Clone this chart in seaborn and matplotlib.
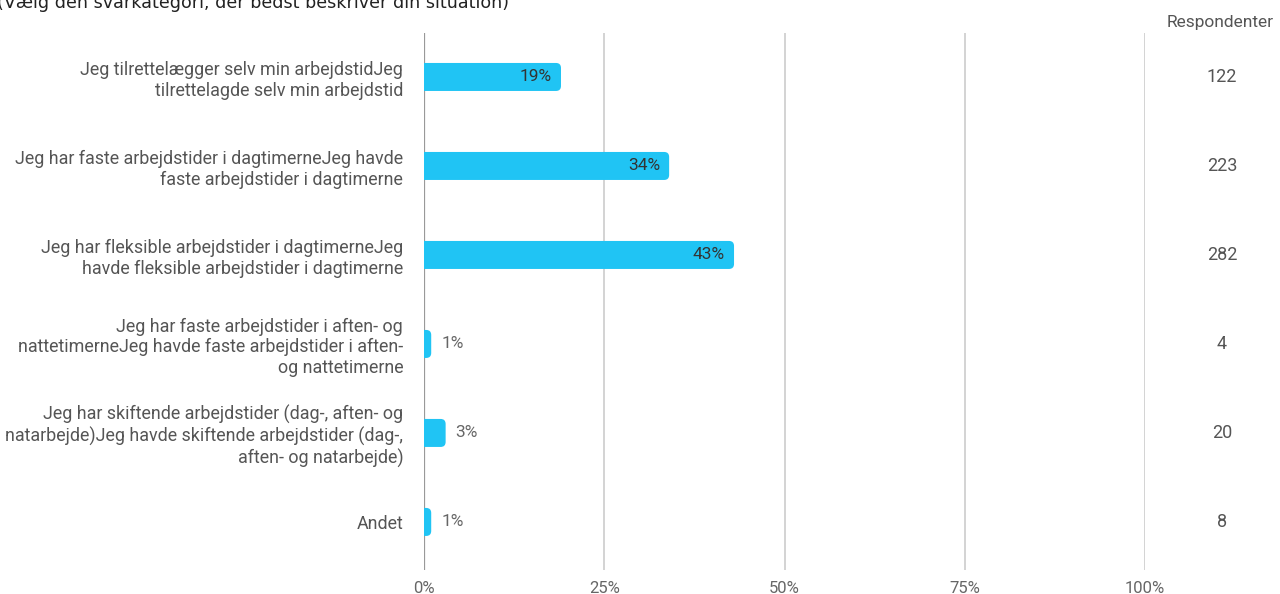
import matplotlib
matplotlib.use("Agg")
import matplotlib.pyplot as plt
from matplotlib.patches import FancyBboxPatch
import matplotlib.transforms as mtransforms
import seaborn as sns
import pandas as pd

categories = [
    "Jeg tilrettelægger selv min arbejdstidJeg\ntilrettelagde selv min arbejdstid",
    "Jeg har faste arbejdstider i dagtimerneJeg havde\nfaste arbejdstider i dagtimerne",
    "Jeg har fleksible arbejdstider i dagtimerneJeg\nhavde fleksible arbejdstider i dagtimerne",
    "Jeg har faste arbejdstider i aften- og\nnattetimerneJeg havde faste arbejdstider i aften-\nog nattetimerne",
    "Jeg har skiftende arbejdstider (dag-, aften- og\nnatarbejde)Jeg havde skiftende arbejdstider (dag-,\naften- og natarbejde)",
    "Andet",
]
percent = [19, 34, 43, 1, 3, 1]
respondents = [122, 223, 282, 4, 20, 8]
xticks = [0, 25, 50, 75, 100]
xtick_labels = ["0%", "25%", "50%", "75%", "100%"]
title = "(Vælg den svarkategori, der bedst beskriver din situation)"
resp_header = "Respondenter"

sns.set_theme(style="white")
plt.rcParams["font.family"] = ["Roboto", "DejaVu Sans"]

W, H = 1280, 594
fig = plt.figure(figsize=(W / 100, H / 100), dpi=100)
ax_left, ax_right = 424 / W, 1145 / W
ax_top, ax_bot = 1 - 33 / H, 1 - 570 / H
ax = fig.add_axes([ax_left, ax_bot, ax_right - ax_left, ax_top - ax_bot])

df = pd.DataFrame({"cat": categories, "pct": percent})
bar_color = "#20c4f4"
sns.barplot(data=df, y="cat", x="pct", orient="h", color=bar_color,
            width=28 / 89, ax=ax, saturation=1)

ax.set_xlim(0, 100)
ax.set_ylim(5.54, -0.494)

# rounded bars replacing the seaborn rectangles
xpp = 100 / 721.0
ypp = 1 / 89.0
r_px = 5
for p in list(ax.patches):
    x0, y0 = p.get_x(), p.get_y()
    w, h = p.get_width(), p.get_height()
    p.set_visible(False)
    rx = r_px * xpp
    fb = FancyBboxPatch((x0 - 2 * rx, y0), w + 2 * rx, h,
                        boxstyle=f"round,pad=0,rounding_size={rx}",
                        mutation_aspect=ypp / xpp,
                        facecolor=bar_color, edgecolor="none", zorder=3)
    ax.add_patch(fb)

# grid
for xv in xticks:
    ax.axvline(xv, color="#999999" if xv == 0 else "#cccccc",
               lw=1.6 if xv == 0 else 1.2, zorder=1)

for s in ax.spines.values():
    s.set_visible(False)
ax.set_xticks(xticks)
ax.set_xticklabels(xtick_labels, color="#666666", fontsize=12)
ax.tick_params(axis="x", length=0, pad=8)
ax.set_yticks(range(len(categories)))
ax.set_yticklabels(categories, color="#555555", fontsize=12.9, linespacing=1.2)
ax.tick_params(axis="y", length=0, pad=15)
ax.set_xlabel("")
ax.set_ylabel("")

# value labels
for i, v in enumerate(percent):
    if v >= 10:
        ax.text(v - 9 * xpp, i, f"{v}%", ha="right", va="center",
                color="#333333", fontsize=12.5, zorder=4)
    else:
        ax.text(v + 10 * xpp, i, f"{v}%", ha="left", va="center",
                color="#666666", fontsize=12.5, zorder=4)

# respondents column
trans = mtransforms.blended_transform_factory(fig.transFigure, ax.transData)
for i, n in enumerate(respondents):
    ax.text(1222 / W, i, str(n), transform=trans, ha="center", va="center",
            color="#555555", fontsize=13)
fig.text(1220 / W, 1 - 22 / H, resp_header, ha="center", va="center",
         color="#555555", fontsize=12.5)

fig.text(-3 / W, 1 - 3 / H, title, ha="left", va="center",
         color="#222222", fontsize=12.6, family=["DejaVu Sans"])

fig.savefig("out.png", dpi=100)
